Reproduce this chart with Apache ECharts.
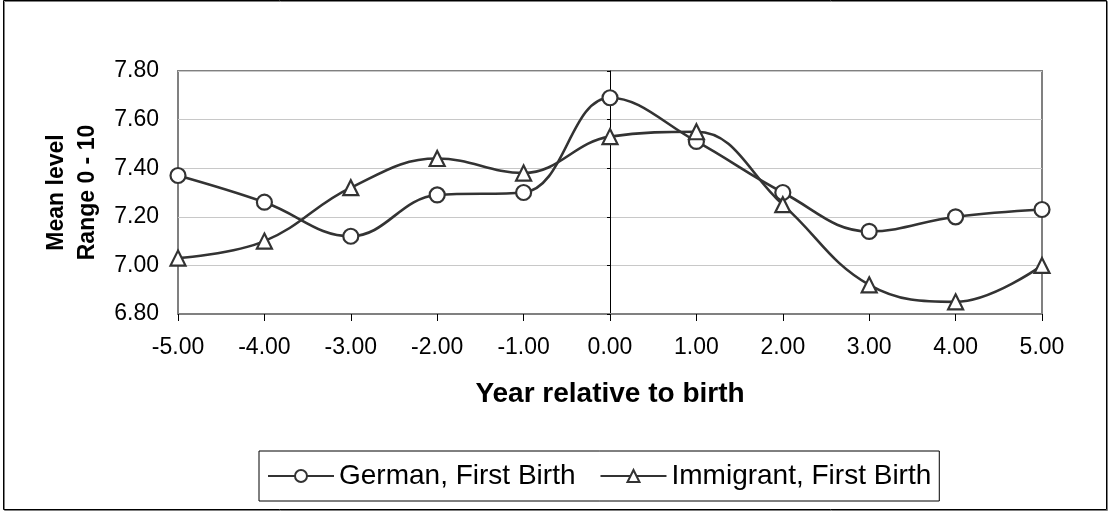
<!DOCTYPE html>
<html>
<head>
<meta charset="utf-8">
<title>Mean level relative to first birth</title>
<script src="https://cdn.jsdelivr.net/npm/echarts@6/dist/echarts.min.js"></script>
<style>
  html, body { margin: 0; padding: 0; background: #fff; }
  #chart { width: 1110px; height: 514px; }
</style>
</head>
<body>
<div id="chart"></div>
<script>
// Years relative to the first birth
var years = [-5, -4, -3, -2, -1, 0, 1, 2, 3, 4, 5];
// Mean level (range 0 - 10)
var germanFirstBirth = [7.37, 7.26, 7.12, 7.29, 7.30, 7.69, 7.51, 7.30, 7.14, 7.20, 7.23];
var immigrantFirstBirth = [7.03, 7.10, 7.32, 7.44, 7.38, 7.53, 7.55, 7.25, 6.92, 6.85, 7.00];
var seriesNames = ['German, First Birth', 'Immigrant, First Birth'];

var FONT = '"Liberation Sans", Arial, sans-serif';
var LINE = '#333333';

function pairs(values) {
  return years.map(function (y, i) { return [y, values[i]]; });
}

function lineSeries(name, values, symbol) {
  return {
    name: name,
    type: 'line',
    data: pairs(values),
    smooth: 0.4,
    symbol: symbol,
    symbolSize: 15,
    showSymbol: true,
    lineStyle: { color: LINE, width: 2.6 },
    itemStyle: { color: '#ffffff', borderColor: LINE, borderWidth: 2.2 },
    emphasis: { disabled: true },
    z: 3
  };
}

var chart = echarts.init(document.getElementById('chart'), null, { renderer: 'canvas' });

chart.setOption({
  animation: false,
  backgroundColor: '#ffffff',
  textStyle: { fontFamily: FONT },
  grid: {
    left: 178, right: 68, top: 71, bottom: 200,
    show: true,
    borderColor: '#808080',
    borderWidth: 2,
    outerBoundsMode: 'none'
  },
  xAxis: {
    type: 'value',
    min: -5, max: 5, interval: 1,
    name: 'Year relative to birth',
    nameLocation: 'middle',
    nameGap: 66,
    nameTextStyle: { fontFamily: FONT, fontSize: 28, fontWeight: 'bold', color: '#000' },
    axisLine: { show: true, onZero: false, lineStyle: { color: '#808080', width: 2 } },
    axisTick: { show: true, inside: false, length: 7, lineStyle: { color: '#000', width: 1 } },
    axisLabel: {
      fontFamily: FONT, fontSize: 23, color: '#000', margin: 22,
      formatter: function (v) { return v.toFixed(2); }
    },
    splitLine: { show: false }
  },
  yAxis: [
    {
      type: 'value',
      min: 6.8, max: 7.8, interval: 0.2,
      name: 'Mean level\nRange 0 - 10',
      nameLocation: 'middle',
      nameRotate: 90,
      nameGap: 72,
      nameTextStyle: { fontFamily: FONT, fontSize: 23, fontWeight: 'bold', color: '#000', lineHeight: 31 },
      axisLine: { show: false, onZero: false },
      axisTick: { show: false },
      axisLabel: {
        fontFamily: FONT, fontSize: 23, color: '#000', margin: 19,
        formatter: function (v) { return v.toFixed(2); }
      },
      splitLine: { show: true, lineStyle: { color: '#c8c8c8', width: 1 } }
    },
    {
      // vertical axis line crossing at year 0
      type: 'value',
      position: 'left',
      min: 6.8, max: 7.8, interval: 0.2,
      axisLine: { show: true, onZero: true, lineStyle: { color: '#000', width: 1 } },
      axisTick: { show: true, inside: false, length: 3, lineStyle: { color: '#000', width: 1 } },
      axisLabel: { show: false },
      splitLine: { show: false }
    }
  ],
  legend: {
    data: seriesNames,
    left: 259,
    top: 451,
    orient: 'horizontal',
    borderColor: '#000',
    borderWidth: 1,
    padding: [11, 8],
    itemGap: 24,
    itemWidth: 66,
    itemHeight: 15,
    textStyle: { fontFamily: FONT, fontSize: 28, color: '#000' }
  },
  series: [
    lineSeries(seriesNames[0], germanFirstBirth, 'circle'),
    lineSeries(seriesNames[1], immigrantFirstBirth, 'triangle')
  ],
  graphic: [
    {
      type: 'rect',
      shape: { x: 4.5, y: 1.5, width: 1103, height: 509 },
      style: { fill: 'none', stroke: '#808080', lineWidth: 1 },
      silent: true
    },
    {
      type: 'rect',
      shape: { x: 3.5, y: 0.5, width: 1103, height: 509 },
      style: { fill: 'none', stroke: '#000', lineWidth: 1 },
      silent: true
    }
  ]
});
</script>
</body>
</html>
